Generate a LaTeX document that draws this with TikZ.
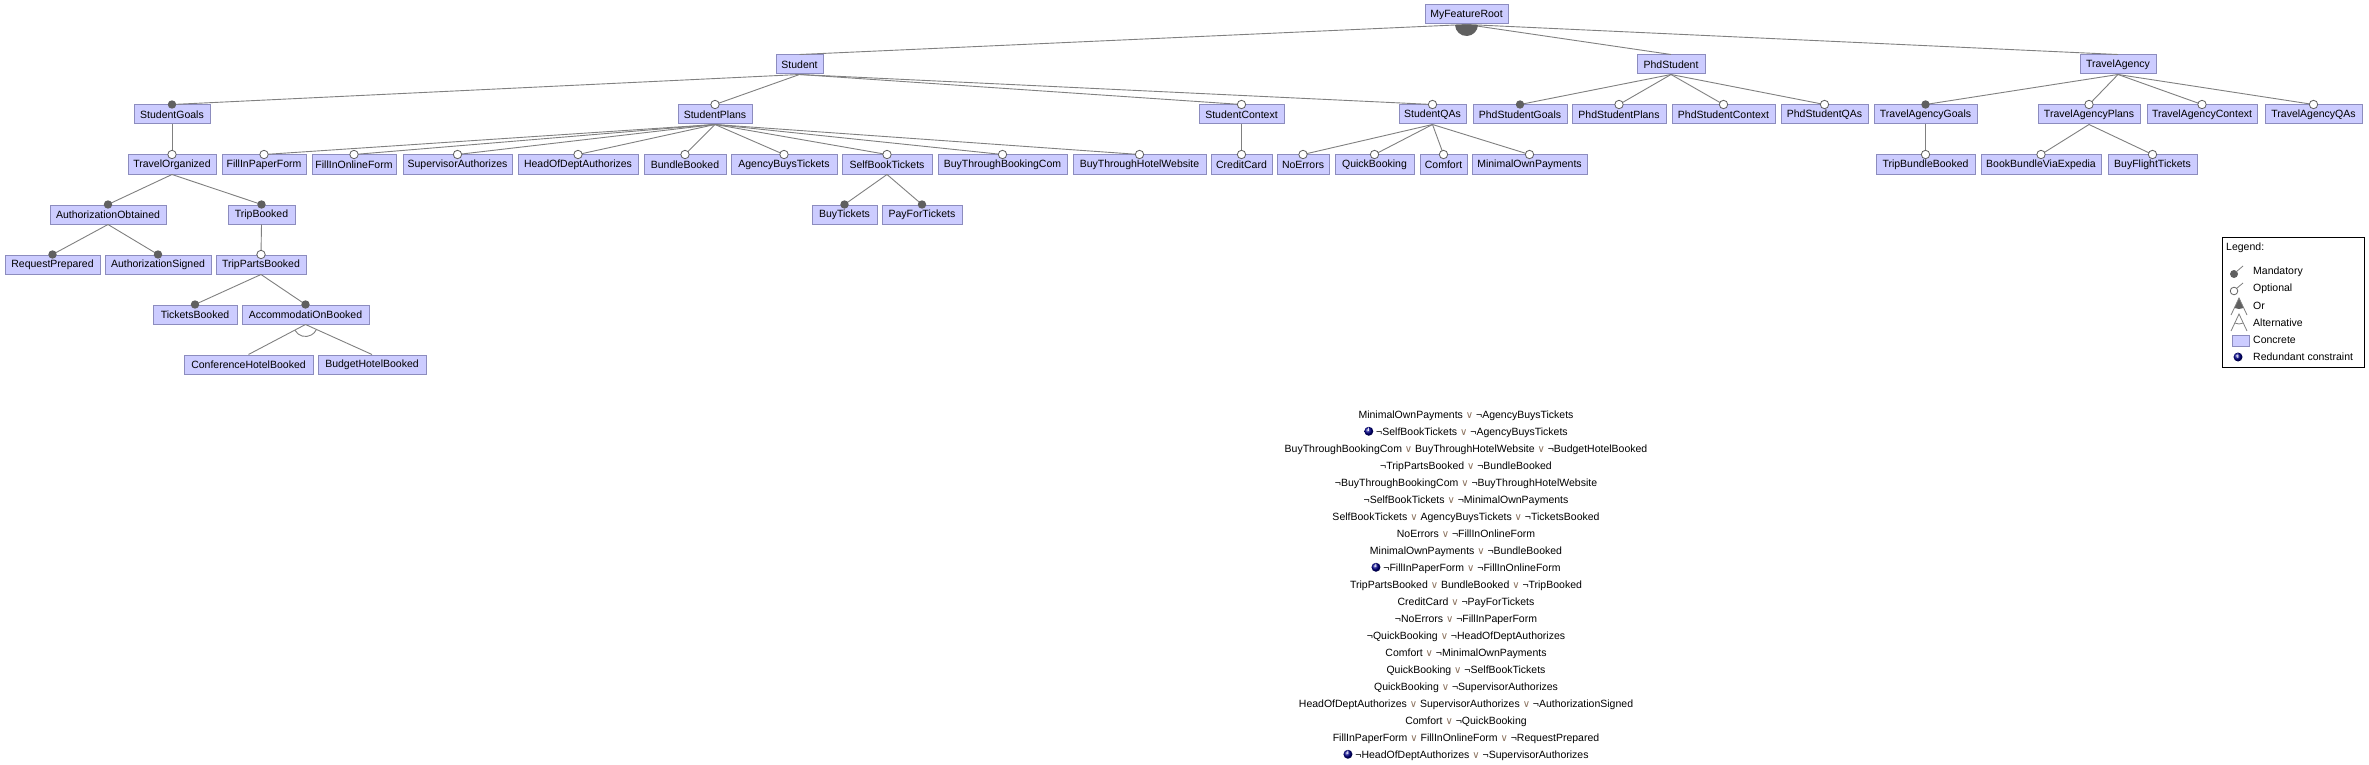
\documentclass[tikz,border=0pt]{standalone}
\usepackage{fontspec}
\setmainfont{Liberation Sans}
\newfontfamily\symfont{DejaVu Sans}
\definecolor{featfill}{RGB}{204,204,255}
\definecolor{featdraw}{RGB}{140,140,190}
\definecolor{edgecol}{RGB}{128,128,128}
\definecolor{dotcol}{RGB}{96,96,96}
\definecolor{orcol}{RGB}{140,115,95}
\tikzset{
  feat/.style={draw=featdraw, fill=featfill, line width=1pt, minimum height=19pt, inner xsep=1pt, inner ysep=0pt, font=\fontsize{10.5}{12}\selectfont},
  edge/.style={draw=edgecol, line width=0.9pt},
  mand/.style={fill=dotcol},
  opt/.style={fill=white, draw=dotcol, line width=0.8pt},
  cons/.style={font=\fontsize{10.5}{12}\selectfont, inner sep=0pt, anchor=base},
  legtext/.style={font=\fontsize{10.5}{12}\selectfont, inner sep=0pt, anchor=west}
}
\newcommand\feat[5]{\node[feat, minimum width={#3-#2}] (#1) at ({(#2+#3)/2},{-(14.5+50*#4)}) {#5};}
\newcommand\mandE[2]{\draw[edge] (#1.south) -- (#2.north); \fill[mand] (#2.north) circle (4.2);}
\newcommand\optE[2]{\draw[edge] (#1.south) -- (#2.north); \filldraw[opt] (#2.north) circle (4.2);}
\newcommand\plainE[2]{\draw[edge] (#1.south) -- (#2.north);}
\newcommand\orsym{{\symfont\fontsize{10}{11}\selectfont\color{orcol}∨}}
\newcommand\infoicon{\tikz[baseline=-3.75pt]{\shade[ball color=blue!55!black] (0,0) circle (4.5pt); \node[text=white, inner sep=0pt, font=\fontsize{6}{6}\selectfont\bfseries] at (0,0.2pt) {i};}}
\begin{document}
\begin{tikzpicture}[x=1pt,y=1pt]
\useasboundingbox (0,0) rectangle (2369,-765);
\fill[white] (0,0) rectangle (2369,-765);
% row 0
\feat{root}{1425}{1508}{0}{MyFeatureRoot}
% row 1
\feat{Student}{776}{823}{1}{Student}
\feat{PhdStudent}{1637}{1705}{1}{PhdStudent}
\feat{TravelAgency}{2080}{2156}{1}{TravelAgency}
% row 2
\feat{StudentGoals}{134}{210}{2}{StudentGoals}
\feat{StudentPlans}{678}{752}{2}{StudentPlans}
\feat{StudentContext}{1199}{1284}{2}{StudentContext}
\feat{StudentQAs}{1399}{1466}{2}{StudentQAs}
\feat{PhdStudentGoals}{1473}{1567}{2}{PhdStudentGoals}
\feat{PhdStudentPlans}{1572}{1666}{2}{PhdStudentPlans}
\feat{PhdStudentContext}{1672}{1775}{2}{PhdStudentContext}
\feat{PhdStudentQAs}{1781}{1868}{2}{PhdStudentQAs}
\feat{TravelAgencyGoals}{1874}{1977}{2}{TravelAgencyGoals}
\feat{TravelAgencyPlans}{2038}{2140}{2}{TravelAgencyPlans}
\feat{TravelAgencyContext}{2147}{2257}{2}{TravelAgencyContext}
\feat{TravelAgencyQAs}{2265}{2362}{2}{TravelAgencyQAs}
% row 3
\feat{TravelOrganized}{128}{216}{3}{TravelOrganized}
\feat{FillInPaperForm}{222}{306}{3}{FillInPaperForm}
\feat{FillInOnlineForm}{312}{396}{3}{FillInOnlineForm}
\feat{SupervisorAuthorizes}{403}{512}{3}{SupervisorAuthorizes}
\feat{HeadOfDeptAuthorizes}{518}{638}{3}{HeadOfDeptAuthorizes}
\feat{BundleBooked}{644}{726}{3}{BundleBooked}
\feat{AgencyBuysTickets}{731}{837}{3}{AgencyBuysTickets}
\feat{SelfBookTickets}{842}{932}{3}{SelfBookTickets}
\feat{BuyThroughBookingCom}{938}{1067}{3}{BuyThroughBookingCom}
\feat{BuyThroughHotelWebsite}{1073}{1206}{3}{BuyThroughHotelWebsite}
\feat{CreditCard}{1211}{1272}{3}{CreditCard}
\feat{NoErrors}{1277}{1329}{3}{NoErrors}
\feat{QuickBooking}{1335}{1414}{3}{QuickBooking}
\feat{Comfort}{1420}{1467}{3}{Comfort}
\feat{MinimalOwnPayments}{1472}{1587}{3}{MinimalOwnPayments}
\feat{TripBundleBooked}{1876}{1975}{3}{TripBundleBooked}
\feat{BookBundleViaExpedia}{1981}{2101}{3}{BookBundleViaExpedia}
\feat{BuyFlightTickets}{2108}{2197}{3}{BuyFlightTickets}
% row 4
\feat{AuthorizationObtained}{50}{166}{4}{AuthorizationObtained}
\feat{TripBooked}{228}{295}{4}{TripBooked}
\feat{BuyTickets}{812}{877}{4}{BuyTickets}
\feat{PayForTickets}{882}{962}{4}{PayForTickets}
% row 5
\feat{RequestPrepared}{5}{100}{5}{RequestPrepared}
\feat{AuthorizationSigned}{105}{211}{5}{AuthorizationSigned}
\feat{TripPartsBooked}{216}{306}{5}{TripPartsBooked}
% row 6
\feat{TicketsBooked}{153}{237}{6}{TicketsBooked}
\feat{AccommodatiOnBooked}{242}{369}{6}{AccommodatiOnBooked}
% row 7
\feat{ConferenceHotelBooked}{184}{313}{7}{ConferenceHotelBooked}
\feat{BudgetHotelBooked}{318}{426}{7}{BudgetHotelBooked}

% edges
\plainE{root}{Student}
\plainE{root}{PhdStudent}
\plainE{root}{TravelAgency}
\fill[dotcol] (root.south) -- ++(182.7:11.5) arc[start angle=182.7, end angle=357.3, radius=11.5] -- cycle;

\mandE{Student}{StudentGoals}
\optE{Student}{StudentPlans}
\optE{Student}{StudentContext}
\optE{Student}{StudentQAs}
\optE{StudentGoals}{TravelOrganized}
\mandE{TravelOrganized}{AuthorizationObtained}
\mandE{TravelOrganized}{TripBooked}
\mandE{AuthorizationObtained}{RequestPrepared}
\mandE{AuthorizationObtained}{AuthorizationSigned}
\optE{TripBooked}{TripPartsBooked}
\mandE{TripPartsBooked}{TicketsBooked}
\mandE{TripPartsBooked}{AccommodatiOnBooked}
\plainE{AccommodatiOnBooked}{ConferenceHotelBooked}
\plainE{AccommodatiOnBooked}{BudgetHotelBooked}
\draw[edge] (AccommodatiOnBooked.south) ++(209.3:12) arc[start angle=209.3, end angle=334.1, radius=12];

\optE{StudentPlans}{FillInPaperForm}
\optE{StudentPlans}{FillInOnlineForm}
\optE{StudentPlans}{SupervisorAuthorizes}
\optE{StudentPlans}{HeadOfDeptAuthorizes}
\optE{StudentPlans}{BundleBooked}
\optE{StudentPlans}{AgencyBuysTickets}
\optE{StudentPlans}{SelfBookTickets}
\optE{StudentPlans}{BuyThroughBookingCom}
\optE{StudentPlans}{BuyThroughHotelWebsite}
\mandE{SelfBookTickets}{BuyTickets}
\mandE{SelfBookTickets}{PayForTickets}
\optE{StudentContext}{CreditCard}
\optE{StudentQAs}{NoErrors}
\optE{StudentQAs}{QuickBooking}
\optE{StudentQAs}{Comfort}
\optE{StudentQAs}{MinimalOwnPayments}

\mandE{PhdStudent}{PhdStudentGoals}
\optE{PhdStudent}{PhdStudentPlans}
\optE{PhdStudent}{PhdStudentContext}
\optE{PhdStudent}{PhdStudentQAs}

\mandE{TravelAgency}{TravelAgencyGoals}
\optE{TravelAgency}{TravelAgencyPlans}
\optE{TravelAgency}{TravelAgencyContext}
\optE{TravelAgency}{TravelAgencyQAs}
\optE{TravelAgencyGoals}{TripBundleBooked}
\optE{TravelAgencyPlans}{BookBundleViaExpedia}
\optE{TravelAgencyPlans}{BuyFlightTickets}

% legend
\node[draw=black, line width=1pt, fill=white, minimum width=142, minimum height=130, inner sep=0pt] (legend) at (2293,-302) {};
\node[legtext] (lgtitle) at (2226,-248) {Legend:};
\fill[dotcol] (2234,-274) circle (4);
\draw[edgecol, line width=0.8pt] (2236,-272) -- (2243,-266);
\node[legtext] (lgmand) at (2253,-272) {Mandatory};
\filldraw[opt] (2234,-291) circle (3.8);
\draw[edgecol, line width=0.8pt] (2236.7,-288.3) -- (2243,-283);
\node[legtext] (lgopt) at (2253,-289) {Optional};
\fill[dotcol] (2239,-298) -- ++(244.8:11) arc[start angle=244.8, end angle=295.2, radius=11] -- cycle;
\draw[edgecol, line width=0.8pt] (2231,-315) -- (2239,-298) -- (2247,-315);
\node[legtext] (lgor) at (2253,-306) {Or};
\draw[edgecol, line width=0.8pt] (2231,-331) -- (2239,-314) -- (2247,-331);
\draw[edgecol, line width=0.8pt] (2239,-314) ++(244.8:10) arc[start angle=244.8, end angle=295.2, radius=10];
\node[legtext] (lgalt) at (2253,-323) {Alternative};
\draw[featdraw, fill=featfill, line width=0.8pt] (2232,-335) rectangle (2249,-346);
\node[legtext] (lgconc) at (2253,-340) {Concrete};
\node[inner sep=0pt] (lginfo) at (2238,-357) {\infoicon};
\node[legtext] (lgred) at (2253,-357) {Redundant constraint};

% constraints
\node[cons] (c0) at (1466,-418) {MinimalOwnPayments \orsym{} ¬AgencyBuysTickets};
\node[cons] (c1) at (1466,-435) {\infoicon\ ¬SelfBookTickets \orsym{} ¬AgencyBuysTickets};
\node[cons] (c2) at (1466,-452) {BuyThroughBookingCom \orsym{} BuyThroughHotelWebsite \orsym{} ¬BudgetHotelBooked};
\node[cons] (c3) at (1466,-469) {¬TripPartsBooked \orsym{} ¬BundleBooked};
\node[cons] (c4) at (1466,-486) {¬BuyThroughBookingCom \orsym{} ¬BuyThroughHotelWebsite};
\node[cons] (c5) at (1466,-503) {¬SelfBookTickets \orsym{} ¬MinimalOwnPayments};
\node[cons] (c6) at (1466,-520) {SelfBookTickets \orsym{} AgencyBuysTickets \orsym{} ¬TicketsBooked};
\node[cons] (c7) at (1466,-537) {NoErrors \orsym{} ¬FillInOnlineForm};
\node[cons] (c8) at (1466,-554) {MinimalOwnPayments \orsym{} ¬BundleBooked};
\node[cons] (c9) at (1466,-571) {\infoicon\ ¬FillInPaperForm \orsym{} ¬FillInOnlineForm};
\node[cons] (c10) at (1466,-588) {TripPartsBooked \orsym{} BundleBooked \orsym{} ¬TripBooked};
\node[cons] (c11) at (1466,-605) {CreditCard \orsym{} ¬PayForTickets};
\node[cons] (c12) at (1466,-622) {¬NoErrors \orsym{} ¬FillInPaperForm};
\node[cons] (c13) at (1466,-639) {¬QuickBooking \orsym{} ¬HeadOfDeptAuthorizes};
\node[cons] (c14) at (1466,-656) {Comfort \orsym{} ¬MinimalOwnPayments};
\node[cons] (c15) at (1466,-673) {QuickBooking \orsym{} ¬SelfBookTickets};
\node[cons] (c16) at (1466,-690) {QuickBooking \orsym{} ¬SupervisorAuthorizes};
\node[cons] (c17) at (1466,-707) {HeadOfDeptAuthorizes \orsym{} SupervisorAuthorizes \orsym{} ¬AuthorizationSigned};
\node[cons] (c18) at (1466,-724) {Comfort \orsym{} ¬QuickBooking};
\node[cons] (c19) at (1466,-741) {FillInPaperForm \orsym{} FillInOnlineForm \orsym{} ¬RequestPrepared};
\node[cons] (c20) at (1466,-758) {\infoicon\ ¬HeadOfDeptAuthorizes \orsym{} ¬SupervisorAuthorizes};
\end{tikzpicture}
\end{document}
